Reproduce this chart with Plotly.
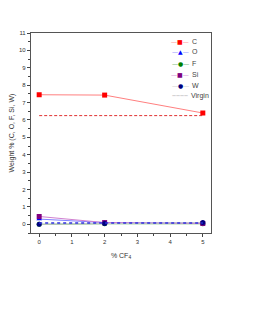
import plotly.graph_objects as go

x_cf4 = [0, 2, 5]
c_vals = [7.45, 7.43, 6.4]
o_vals = [0.3, 0.1, 0.08]
f_vals = [0.0, 0.03, 0.03]
si_vals = [0.45, 0.1, 0.05]
w_vals = [0.0, 0.05, 0.1]
virgin_c = [6.25, 6.25, 6.25]
virgin_low = [0.08, 0.08, 0.08]

series_names = ["C", "O", "F", "Si", "W"]
series_vals = [c_vals, o_vals, f_vals, si_vals, w_vals]
marker_colors = ["#ff0000", "#0000ff", "#008000", "#800080", "#000080"]
line_colors = ["#ff8080", "#8080ff", "#60b060", "#d080d0", "#c8c8c8"]
symbols = ["square", "triangle-up", "circle", "square", "circle"]
glyphs = ["■", "▲", "●", "■", "●"]

fig = go.Figure()
for name, vals, mc, lc, sym in zip(series_names, series_vals, marker_colors, line_colors, symbols):
    fig.add_trace(go.Scatter(x=x_cf4, y=vals, name=name, mode="lines+markers",
                             line=dict(color=lc, width=1), showlegend=False,
                             marker=dict(color=mc, symbol=sym, size=5)))
fig.add_trace(go.Scatter(x=x_cf4, y=virgin_c, name="Virgin", mode="lines", showlegend=False,
                         line=dict(color="#e03030", width=1, dash="3px,2px")))
fig.add_trace(go.Scatter(x=x_cf4, y=virgin_low, name="Virgin", mode="lines",
                         showlegend=False,
                         line=dict(color="#3030e0", width=1.5, dash="dot")))

# text legend (page offset of 8px body margin accounted for)
PL, PR, PT, PB = 31, 211, 33, 233
def px_x(x):
    return (x - PL) / (PR - PL)
def px_y(y):
    return (PB - y) / (PB - PT)

annotations = []
row_y = [41, 52, 63, 74, 85, 96]
for i, (name, mc, lc, g) in enumerate(zip(series_names, marker_colors, line_colors, glyphs)):
    txt = (f"<span style='color:{lc}'>—</span><span style='color:{mc}'>{g}</span>"
           f"<span style='color:{lc}'>—</span>")
    annotations.append(dict(x=px_x(180), y=px_y(row_y[i]), xref="paper", yref="paper",
                            text=txt, showarrow=False, xanchor="center", yanchor="middle",
                            font=dict(size=6, family="DejaVu Sans")))
    annotations.append(dict(x=px_x(190), y=px_y(row_y[i]), xref="paper", yref="paper",
                            text=name, showarrow=False, xanchor="left", yanchor="middle",
                            font=dict(size=7, color="#444")))
annotations.append(dict(x=px_x(180), y=px_y(row_y[5]), xref="paper", yref="paper",
                        text="<span style='color:#555'>————</span>", showarrow=False,
                        xanchor="center", yanchor="middle", font=dict(size=4, family="DejaVu Sans")))
annotations.append(dict(x=px_x(189), y=px_y(row_y[5]), xref="paper", yref="paper",
                        text="Virgin", showarrow=False, xanchor="left", yanchor="middle",
                        font=dict(size=7, color="#444")))

fig.update_layout(
    width=250, height=325,
    margin=dict(l=23, r=47, t=25, b=100),
    paper_bgcolor="white", plot_bgcolor="white",
    font=dict(family="Liberation Sans, Arial", size=6, color="#333"),
    showlegend=False,
    annotations=annotations,
)
fig.update_xaxes(range=[-0.25, 5.25], tickmode="linear", tick0=0, dtick=1,
                 ticks="outside", ticklen=3, showgrid=False, zeroline=False,
                 showline=True, linecolor="#555", linewidth=1.2, mirror=True,
                 automargin=False,
                 minor=dict(ticks="outside", ticklen=2, dtick=0.5, tick0=0),
                 title=dict(text="% CF<sub>4</sub>", font=dict(size=7), standoff=8))
fig.update_yaxes(range=[-0.5, 11], tickmode="linear", tick0=0, dtick=1,
                 ticks="outside", ticklen=3, showgrid=False, zeroline=False,
                 showline=True, linecolor="#555", linewidth=1.2, mirror=True,
                 automargin=False,
                 minor=dict(ticks="outside", ticklen=2, dtick=0.5, tick0=0),
                 title=dict(text="Weight % (C, O, F, Si, W)", font=dict(size=7), standoff=4))

fig.write_html("out.html")
